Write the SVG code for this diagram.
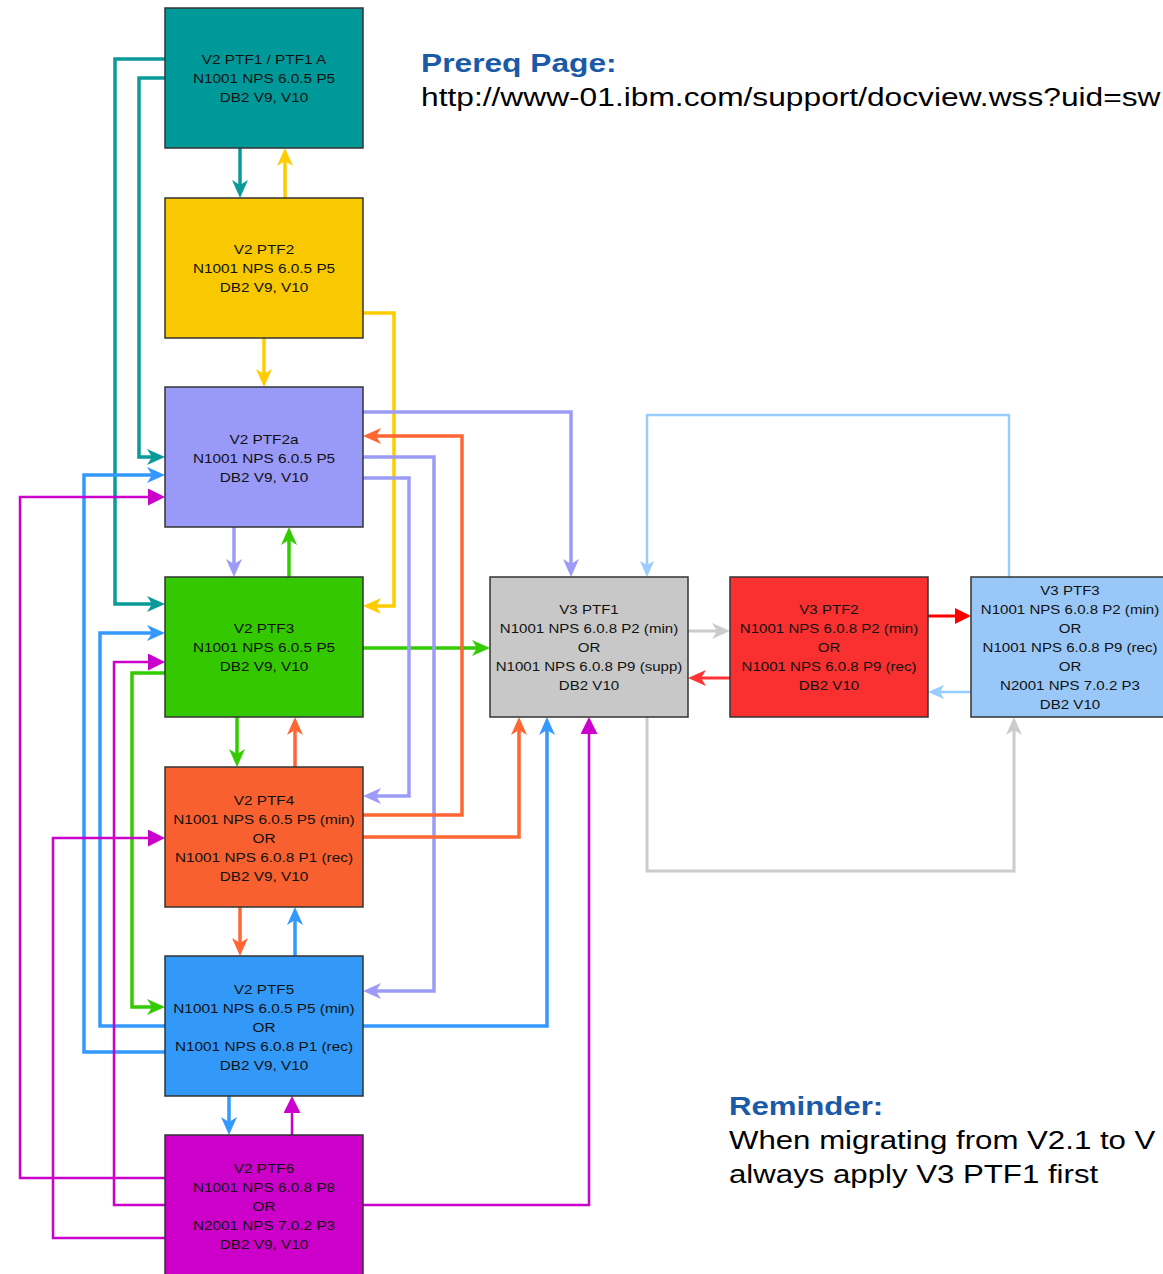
<svg xmlns="http://www.w3.org/2000/svg" width="1163" height="1274" viewBox="0 0 1163 1274">
  <style>
    .box { stroke: #333; stroke-width: 1.5; }
    .lbl { font-family: "Liberation Sans", Arial, sans-serif; font-size: 13px; fill: #111; text-anchor: middle; white-space: pre; }
    .big { font-family: "Liberation Sans", Arial, sans-serif; font-size: 26px; fill: #000; white-space: pre; }
    .head { font-weight: bold; fill: #1A5AA6; }
    .c { fill: none; stroke-linejoin: miter; }
    .w { stroke-width: 3.5; }
    .t { stroke-width: 2.5; }
  </style>
  <defs>
    <!-- notched arrowheads, tip sits 6px past the path end -->
    <marker id="aTeal" markerUnits="userSpaceOnUse" markerWidth="18" markerHeight="16" viewBox="0 0 18 16" refX="12" refY="8" orient="auto"><path d="M18,8 L0,0 L5,8 L0,16 Z" fill="#0A9A9A"/></marker>
    <marker id="aYel" markerUnits="userSpaceOnUse" markerWidth="18" markerHeight="16" viewBox="0 0 18 16" refX="12" refY="8" orient="auto"><path d="M18,8 L0,0 L5,8 L0,16 Z" fill="#FFCC00"/></marker>
    <marker id="aLav" markerUnits="userSpaceOnUse" markerWidth="18" markerHeight="16" viewBox="0 0 18 16" refX="12" refY="8" orient="auto"><path d="M18,8 L0,0 L5,8 L0,16 Z" fill="#9C9CF8"/></marker>
    <marker id="aGrn" markerUnits="userSpaceOnUse" markerWidth="18" markerHeight="16" viewBox="0 0 18 16" refX="12" refY="8" orient="auto"><path d="M18,8 L0,0 L5,8 L0,16 Z" fill="#33CC00"/></marker>
    <marker id="aOra" markerUnits="userSpaceOnUse" markerWidth="18" markerHeight="16" viewBox="0 0 18 16" refX="12" refY="8" orient="auto"><path d="M18,8 L0,0 L5,8 L0,16 Z" fill="#FF6633"/></marker>
    <marker id="aBlu" markerUnits="userSpaceOnUse" markerWidth="18" markerHeight="16" viewBox="0 0 18 16" refX="12" refY="8" orient="auto"><path d="M18,8 L0,0 L5,8 L0,16 Z" fill="#3399FF"/></marker>
    <marker id="aGry" markerUnits="userSpaceOnUse" markerWidth="18" markerHeight="16" viewBox="0 0 18 16" refX="12" refY="8" orient="auto"><path d="M18,8 L0,0 L5,8 L0,16 Z" fill="#CCCCCC"/></marker>
    <marker id="aRed" markerUnits="userSpaceOnUse" markerWidth="18" markerHeight="16" viewBox="0 0 18 16" refX="12" refY="8" orient="auto"><path d="M18,8 L0,0 L5,8 L0,16 Z" fill="#FF3333"/></marker>
    <marker id="aLtb" markerUnits="userSpaceOnUse" markerWidth="16" markerHeight="14" viewBox="0 0 16 14" refX="10" refY="7" orient="auto"><path d="M16,7 L0,0 L4,7 L0,14 Z" fill="#99CCFF"/></marker>
    <!-- solid triangle heads -->
    <marker id="bMag" markerUnits="userSpaceOnUse" markerWidth="17" markerHeight="17" viewBox="0 0 17 17" refX="11" refY="8.5" orient="auto"><path d="M17,8.5 L0,0 L0,17 Z" fill="#CC00CC"/></marker>
    <marker id="bRed" markerUnits="userSpaceOnUse" markerWidth="16" markerHeight="16" viewBox="0 0 16 16" refX="10" refY="8" orient="auto"><path d="M16,8 L0,0 L0,16 Z" fill="#FF0000"/></marker>
  </defs>

  <rect width="1163" height="1274" fill="#fff"/>

  <!-- connectors -->
  <g id="connectors" class="c">
    <g stroke="#FFCC00" class="w">
      <path d="M285,198 V154" marker-end="url(#aYel)"/>
      <path d="M264,338 V381" marker-end="url(#aYel)"/>
      <path d="M363,313 H394 V606 H369" marker-end="url(#aYel)"/>
    </g>
    <g stroke="#0A9A9A" class="w">
      <path d="M165,59 H115 V604 H159" marker-end="url(#aTeal)"/>
      <path d="M165,78 H139 V457 H159" marker-end="url(#aTeal)"/>
      <path d="M240,148 V192" marker-end="url(#aTeal)"/>
    </g>
    <g stroke="#33CC00" class="w">
      <path d="M289,577 V533" marker-end="url(#aGrn)"/>
      <path d="M363,648 H484" marker-end="url(#aGrn)"/>
      <path d="M237,717 V761" marker-end="url(#aGrn)"/>
      <path d="M165,673 H132 V1007 H159" marker-end="url(#aGrn)"/>
    </g>
    <g stroke="#9C9CF8" class="w">
      <path d="M363,412 H571 V571" marker-end="url(#aLav)"/>
      <path d="M363,457 H434 V991 H369" marker-end="url(#aLav)"/>
      <path d="M363,478 H409 V796 H369" marker-end="url(#aLav)"/>
      <path d="M234,527 V571" marker-end="url(#aLav)"/>
    </g>
    <g stroke="#FF6633" class="w">
      <path d="M295,767 V723" marker-end="url(#aOra)"/>
      <path d="M363,815 H462 V436 H369" marker-end="url(#aOra)"/>
      <path d="M363,837 H519 V723" marker-end="url(#aOra)"/>
      <path d="M240,907 V950" marker-end="url(#aOra)"/>
    </g>
    <g stroke="#3399FF" class="w">
      <path d="M295,956 V913" marker-end="url(#aBlu)"/>
      <path d="M165,1026 H100 V633 H159" marker-end="url(#aBlu)"/>
      <path d="M165,1052 H84 V475 H159" marker-end="url(#aBlu)"/>
      <path d="M363,1026 H547 V723" marker-end="url(#aBlu)"/>
      <path d="M229,1096 V1129" marker-end="url(#aBlu)"/>
    </g>
    <g stroke="#CC00CC" class="t">
      <path d="M292,1135 V1102" marker-end="url(#bMag)"/>
      <path d="M165,1178 H20 V497 H159" marker-end="url(#bMag)"/>
      <path d="M165,1205 H114 V662 H159" marker-end="url(#bMag)"/>
      <path d="M165,1238 H53 V838 H159" marker-end="url(#bMag)"/>
      <path d="M363,1205 H589 V723" marker-end="url(#bMag)"/>
    </g>
    <g stroke="#CCCCCC" stroke-width="3">
      <path d="M688,631 H724" marker-end="url(#aGry)"/>
      <path d="M647,717 V871 H1014 V723" marker-end="url(#aGry)"/>
    </g>
    <path d="M928,616 H965" stroke="#FF0000" stroke-width="3" marker-end="url(#bRed)"/>
    <path d="M730,678 H694" stroke="#FF3333" stroke-width="3" marker-end="url(#aRed)"/>
    <g stroke="#99CCFF" stroke-width="2.5">
      <path d="M1009,577 V415 H647 V571" marker-end="url(#aLtb)"/>
      <path d="M971,692 H934" marker-end="url(#aLtb)"/>
    </g>
  </g>

  <!-- V2 column -->
  <g id="v2-ptf1">
    <rect class="box" x="165" y="8" width="198" height="140" fill="#009999"/>
    <g transform="translate(264 0) scale(1.18 1)" class="lbl">
      <text x="0" y="64">V2 PTF1 / PTF1 A</text>
      <text x="0" y="83">N1001 NPS 6.0.5 P5</text>
      <text x="0" y="102">DB2 V9, V10</text>
    </g>
  </g>
  <g id="v2-ptf2">
    <rect class="box" x="165" y="198" width="198" height="140" fill="#F8C800"/>
    <g transform="translate(264 0) scale(1.18 1)" class="lbl">
      <text x="0" y="254">V2 PTF2</text>
      <text x="0" y="273">N1001 NPS 6.0.5 P5</text>
      <text x="0" y="292">DB2 V9, V10</text>
    </g>
  </g>
  <g id="v2-ptf2a">
    <rect class="box" x="165" y="387" width="198" height="140" fill="#9999F8"/>
    <g transform="translate(264 0) scale(1.18 1)" class="lbl">
      <text x="0" y="444">V2 PTF2a</text>
      <text x="0" y="463">N1001 NPS 6.0.5 P5</text>
      <text x="0" y="482">DB2 V9, V10</text>
    </g>
  </g>
  <g id="v2-ptf3">
    <rect class="box" x="165" y="577" width="198" height="140" fill="#33C800"/>
    <g transform="translate(264 0) scale(1.18 1)" class="lbl">
      <text x="0" y="633">V2 PTF3</text>
      <text x="0" y="652">N1001 NPS 6.0.5 P5</text>
      <text x="0" y="671">DB2 V9, V10</text>
    </g>
  </g>
  <g id="v2-ptf4">
    <rect class="box" x="165" y="767" width="198" height="140" fill="#F86030"/>
    <g transform="translate(264 0) scale(1.18 1)" class="lbl">
      <text x="0" y="805">V2 PTF4</text>
      <text x="0" y="824">N1001 NPS 6.0.5 P5 (min)</text>
      <text x="0" y="843">OR</text>
      <text x="0" y="862"> N1001  NPS 6.0.8 P1 (rec)</text>
      <text x="0" y="881">DB2 V9, V10</text>
    </g>
  </g>
  <g id="v2-ptf5">
    <rect class="box" x="165" y="956" width="198" height="140" fill="#3399F8"/>
    <g transform="translate(264 0) scale(1.18 1)" class="lbl">
      <text x="0" y="994">V2 PTF5</text>
      <text x="0" y="1013">N1001 NPS 6.0.5 P5 (min)</text>
      <text x="0" y="1032">OR</text>
      <text x="0" y="1051"> N1001  NPS 6.0.8 P1 (rec)</text>
      <text x="0" y="1070">DB2 V9, V10</text>
    </g>
  </g>
  <g id="v2-ptf6">
    <rect class="box" x="165" y="1135" width="198" height="145" fill="#CC00C8"/>
    <g transform="translate(264 0) scale(1.18 1)" class="lbl">
      <text x="0" y="1173">V2 PTF6</text>
      <text x="0" y="1192">N1001 NPS 6.0.8  P8</text>
      <text x="0" y="1211">OR</text>
      <text x="0" y="1230">N2001 NPS 7.0.2  P3</text>
      <text x="0" y="1249">DB2 V9, V10</text>
    </g>
  </g>

  <!-- V3 row -->
  <g id="v3-ptf1">
    <rect class="box" x="490" y="577" width="198" height="140" fill="#C8C8C8"/>
    <g transform="translate(589 0) scale(1.16 1)" class="lbl">
      <text x="0" y="614">V3 PTF1</text>
      <text x="0" y="633">N1001 NPS  6.0.8 P2 (min)</text>
      <text x="0" y="652">OR</text>
      <text x="0" y="671">N1001 NPS 6.0.8 P9 (supp)</text>
      <text x="0" y="690">DB2 V10</text>
    </g>
  </g>
  <g id="v3-ptf2">
    <rect class="box" x="730" y="577" width="198" height="140" fill="#F83030"/>
    <g transform="translate(829 0) scale(1.16 1)" class="lbl">
      <text x="0" y="614">V3 PTF2</text>
      <text x="0" y="633">N1001 NPS  6.0.8 P2 (min)</text>
      <text x="0" y="652">OR</text>
      <text x="0" y="671">N1001 NPS 6.0.8 P9 (rec)</text>
      <text x="0" y="690">DB2 V10</text>
    </g>
  </g>
  <g id="v3-ptf3">
    <rect class="box" x="971" y="577" width="198" height="140" fill="#99C8F8"/>
    <g transform="translate(1070 0) scale(1.16 1)" class="lbl">
      <text x="0" y="595">V3 PTF3</text>
      <text x="0" y="614">N1001 NPS 6.0.8 P2 (min)</text>
      <text x="0" y="633">OR</text>
      <text x="0" y="652">N1001 NPS 6.0.8  P9 (rec)</text>
      <text x="0" y="671">OR</text>
      <text x="0" y="690">N2001 NPS 7.0.2 P3</text>
      <text x="0" y="709">DB2 V10</text>
    </g>
  </g>

  <!-- notes -->
  <g id="prereq-note" transform="translate(421 0) scale(1.22 1)" class="big">
    <text class="big head" x="0" y="72">Prereq Page:</text>
    <text class="big" x="0" y="106">http://www-01.ibm.com/support/docview.wss?uid=sw</text>
  </g>
  <g id="reminder-note" transform="translate(729 0) scale(1.2 1)" class="big">
    <text class="big head" x="0" y="1115">Reminder:</text>
    <text class="big" x="0" y="1149">When migrating from V2.1 to V</text>
    <text class="big" x="0" y="1183">always apply V3 PTF1 first</text>
  </g>
</svg>
